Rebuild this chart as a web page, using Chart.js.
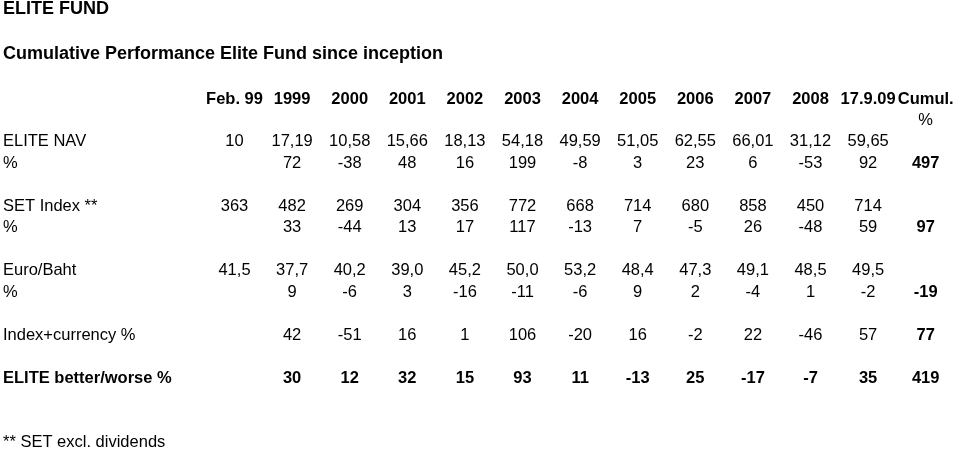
<!DOCTYPE html>
<html>
<head>
<meta charset="utf-8">
<script src="https://cdn.jsdelivr.net/npm/chart.js@4/dist/chart.umd.min.js"></script>
<style>
html,body{margin:0;padding:0;background:#fff;}
#wrap{width:960px;height:450px;position:relative;}
</style>
</head>
<body>
<div id="wrap"><canvas id="c"></canvas></div>
<script>
// ---------- data ----------
const titleText = 'ELITE FUND';
const subtitleText = 'Cumulative Performance Elite Fund since inception';
const columns = ['Feb. 99','1999','2000','2001','2002','2003','2004','2005','2006','2007','2008','17.9.09','Cumul.'];
const rowLabels = ['', 'ELITE NAV', '%', '', 'SET Index **', '%', '', 'Euro/Baht', '%', '', 'Index+currency %', '', 'ELITE better/worse %', '', '', '** SET excl. dividends'];
const cumulUnit = [null, null, null, null, null, null, null, null, null, null, null, null, '%'];
const eliteNav = [10, 17.19, 10.58, 15.66, 18.13, 54.18, 49.59, 51.05, 62.55, 66.01, 31.12, 59.65, null];
const elitePct = [null, 72, -38, 48, 16, 199, -8, 3, 23, 6, -53, 92, 497];
const setIndex = [363, 482, 269, 304, 356, 772, 668, 714, 680, 858, 450, 714, null];
const setPct = [null, 33, -44, 13, 17, 117, -13, 7, -5, 26, -48, 59, 97];
const euroBaht = [41.5, 37.7, 40.2, 39.0, 45.2, 50.0, 53.2, 48.4, 47.3, 49.1, 48.5, 49.5, null];
const euroPct = [null, 9, -6, 3, -16, -11, -6, 9, 2, -4, 1, -2, -19];
const indexCurrencyPct = [null, 42, -51, 16, 1, 106, -20, 16, -2, 22, -46, 57, 77];
const betterWorsePct = [null, 30, 12, 32, 15, 93, 11, -13, 25, -17, -7, 35, 419];

// ---------- formatting ----------
const FONT = "'Liberation Sans', Arial, Helvetica, sans-serif";
const SIZE = 16.5;
const fmtText = v => String(v);
const fmtInt = v => String(v);
const fmtNav = v => Number.isInteger(v) ? String(v) : v.toFixed(2).replace('.', ',');
const fmtOne = v => v.toFixed(1).replace('.', ',');

const rows = [
  { row: 0,  values: cumulUnit,        fmt: fmtText, bold: false, boldLast: false },
  { row: 1,  values: eliteNav,         fmt: fmtNav,  bold: false, boldLast: true },
  { row: 2,  values: elitePct,         fmt: fmtInt,  bold: false, boldLast: true },
  { row: 4,  values: setIndex,         fmt: fmtInt,  bold: false, boldLast: true },
  { row: 5,  values: setPct,           fmt: fmtInt,  bold: false, boldLast: true },
  { row: 7,  values: euroBaht,         fmt: fmtOne,  bold: false, boldLast: true },
  { row: 8,  values: euroPct,          fmt: fmtInt,  bold: false, boldLast: true },
  { row: 10, values: indexCurrencyPct, fmt: fmtInt,  bold: false, boldLast: true },
  { row: 12, values: betterWorsePct,   fmt: fmtInt,  bold: true,  boldLast: true }
];

const datasets = rows.map(r => ({
  label: rowLabels[r.row],
  showLine: false,
  pointRadius: 0,
  pointHoverRadius: 0,
  data: r.values.map((v, i) => v === null ? null : {
    x: columns[i], y: r.row, text: r.fmt(v),
    bold: r.bold || (r.boldLast && i === columns.length - 1)
  }).filter(d => d !== null)
}));

const cellTextPlugin = {
  id: 'cellText',
  afterDatasetsDraw(chart) {
    const ctx = chart.ctx;
    ctx.save();
    ctx.textAlign = 'center';
    ctx.textBaseline = 'middle';
    ctx.fillStyle = '#000';
    chart.data.datasets.forEach((ds, di) => {
      const meta = chart.getDatasetMeta(di);
      meta.data.forEach((el, i) => {
        const d = ds.data[i];
        ctx.font = (d.bold ? 'bold ' : '') + SIZE + 'px ' + FONT;
        ctx.fillText(d.text, el.x, el.y);
      });
    });
    ctx.restore();
  }
};

Chart.defaults.color = '#000';
Chart.defaults.font.family = FONT;

new Chart(document.getElementById('c'), {
  type: 'line',
  data: { labels: columns, datasets },
  plugins: [cellTextPlugin],
  options: {
    responsive: true,
    maintainAspectRatio: false,
    animation: false,
    events: [],
    layout: { padding: { left: 3, right: 5.5, top: 0, bottom: 7.5 } },
    plugins: {
      legend: { display: false },
      tooltip: { enabled: false },
      title: {
        display: true, text: titleText, align: 'start', color: '#000',
        font: { family: FONT, size: 18, weight: 'bold', lineHeight: 1 },
        padding: { top: 0, bottom: 0 }
      },
      subtitle: {
        display: true, text: subtitleText, align: 'start', color: '#000',
        font: { family: FONT, size: 18, weight: 'bold', lineHeight: 1 },
        padding: { top: 27.4, bottom: 0 }
      }
    },
    scales: {
      x: {
        type: 'category',
        position: 'top',
        offset: true,
        grid: { display: false, drawTicks: false },
        border: { display: false },
        ticks: {
          color: '#000', padding: 10.5, autoSkip: false, maxRotation: 0,
          font: { family: FONT, size: SIZE, weight: 'bold', lineHeight: 1.2 }
        },
        afterFit(scale) { scale.height = 56.6; scale.paddingLeft = 0; scale.paddingRight = 0; }
      },
      y: {
        type: 'linear',
        min: 0, max: 15, reverse: true,
        grid: { display: false, drawTicks: false },
        border: { display: false },
        ticks: {
          stepSize: 1, maxTicksLimit: 30, autoSkip: false,
          crossAlign: 'far', padding: 0, color: '#000',
          callback: v => rowLabels[v] !== undefined ? rowLabels[v] : '',
          font: ctx => ({ family: FONT, size: SIZE, weight: (ctx.tick && ctx.tick.value === 12) ? 'bold' : 'normal', lineHeight: 1.2 })
        },
        afterFit(scale) { scale.width = 202.7; scale.paddingTop = 0; scale.paddingBottom = 0; }
      }
    }
  }
});
</script>
</body>
</html>
